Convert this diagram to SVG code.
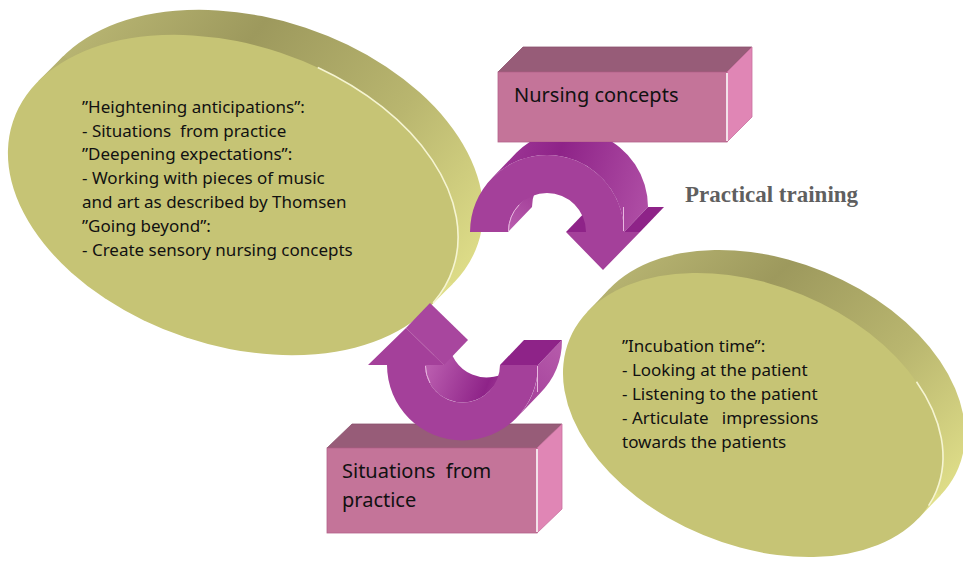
<svg xmlns="http://www.w3.org/2000/svg" xmlns:xlink="http://www.w3.org/1999/xlink" width="963" height="563" viewBox="0 0 963 563">
<style>
text{font-family:"Noto Sans","Liberation Sans",sans-serif;fill:#111;white-space:pre}
.et{font-size:17px}
.bt{font-size:20px}
.face{fill:#c6c475}
.hl{fill:none;stroke:#f6f5d2;stroke-width:1.6}
.bfront{fill:#c47499;stroke:#b36389;stroke-width:0.8}
.btop{fill:#975c78;stroke:#8a506c;stroke-width:0.8}
.bside{fill:#e086b5;stroke:#c96f9e;stroke-width:0.8}
.bedge{stroke:#ffffff;stroke-width:1.6}
.afront{fill:#a4409a}
.acap{fill:#8e2388}
.lbl{font-family:"Liberation Serif","Times New Roman",serif;font-weight:bold;font-size:23px;fill:#5f5f5f}
</style>
<defs>
<ellipse id="ellL" cx="233" cy="195" rx="232" ry="150" transform="rotate(18.5 233 195)"/>
<ellipse id="ellR" cx="753" cy="415" rx="198.5" ry="130" transform="rotate(22.5 753 415)"/>
<linearGradient id="rimL" gradientUnits="userSpaceOnUse" x1="40" y1="60" x2="480" y2="220">
<stop offset="0" stop-color="#b8b572"/><stop offset="0.3" stop-color="#9d995d"/><stop offset="0.65" stop-color="#b9b66f"/><stop offset="1" stop-color="#e1e08a"/>
</linearGradient>
<linearGradient id="rimR" gradientUnits="userSpaceOnUse" x1="590" y1="280" x2="960" y2="440">
<stop offset="0" stop-color="#b8b572"/><stop offset="0.3" stop-color="#9d995d"/><stop offset="0.65" stop-color="#b9b66f"/><stop offset="1" stop-color="#e1e08a"/>
</linearGradient>
<linearGradient id="bandTop" gradientUnits="userSpaceOnUse" x1="490" y1="160" x2="665" y2="215">
<stop offset="0" stop-color="#a03a98"/><stop offset="0.35" stop-color="#8e2388"/><stop offset="1" stop-color="#b556aa"/>
</linearGradient>
<linearGradient id="innerTop" gradientUnits="userSpaceOnUse" x1="510" y1="230" x2="545" y2="180">
<stop offset="0" stop-color="#b95cae"/><stop offset="1" stop-color="#9a3390"/>
</linearGradient>
<linearGradient id="innerBot" gradientUnits="userSpaceOnUse" x1="430" y1="365" x2="505" y2="395">
<stop offset="0" stop-color="#b95cae"/><stop offset="0.75" stop-color="#8e2388"/><stop offset="1" stop-color="#a4409a"/>
</linearGradient>
<linearGradient id="bandBot" gradientUnits="userSpaceOnUse" x1="515" y1="400" x2="562" y2="345">
<stop offset="0" stop-color="#a4409a"/><stop offset="1" stop-color="#b65bab"/>
</linearGradient>
<clipPath id="belowBox"><rect x="0" y="142" width="963" height="421"/></clipPath>
</defs>
<rect width="963" height="563" fill="#ffffff"/>

<g id="node-heightening">
<use xlink:href="#ellL" transform="translate(25,-25)" fill="url(#rimL)"/>
<polygon points="427.8,308.7 452.8,283.7 63.2,56.3 38.2,81.3" fill="url(#rimL)"/>
<use xlink:href="#ellL" class="face"/>
<ellipse cx="233" cy="195" rx="232" ry="150" transform="rotate(18.5 233 195)" class="hl" pathLength="100" stroke-dasharray="3.3 75 21.7 0"/>
<text class="et" x="82" y="113">”Heightening anticipations”:</text>
<text class="et" x="82" y="137">- Situations  from practice</text>
<text class="et" x="82" y="160">”Deepening expectations”:</text>
<text class="et" x="82" y="184">- Working with pieces of music</text>
<text class="et" x="82" y="208">and art as described by Thomsen</text>
<text class="et" x="82" y="232">”Going beyond”:</text>
<text class="et" x="82" y="256">- Create sensory nursing concepts</text>
</g>

<g id="node-incubation">
<use xlink:href="#ellR" transform="translate(22,-23)" fill="url(#rimR)"/>
<polygon points="918.5,518.3 940.5,495.3 609.5,288.7 587.5,311.7" fill="url(#rimR)"/>
<use xlink:href="#ellR" class="face"/>
<ellipse cx="753" cy="415" rx="198.5" ry="130" transform="rotate(22.5 753 415)" class="hl" pathLength="100" stroke-dasharray="1.6 87.3 11.1 0"/>
<text class="et" x="622" y="352">”Incubation time”:</text>
<text class="et" x="622" y="376">- Looking at the patient</text>
<text class="et" x="622" y="400">- Listening to the patient</text>
<text class="et" x="622" y="424">- Articulate   impressions</text>
<text class="et" x="622" y="448">towards the patients</text>
</g>

<g id="node-nursing-concepts">
<polygon class="btop" points="498,72 523,47 752,47 727,72"/>
<polygon class="bside" points="727,72 752,47 752,117 727,142"/>
<rect class="bfront" x="498" y="72" width="229" height="70"/>
<line class="bedge" x1="727" y1="73" x2="727" y2="141"/>
<text class="bt" x="514" y="102">Nursing concepts</text>
</g>

<g id="node-situations">
<polygon class="btop" points="327,448 352,424 562,424 537,448"/>
<polygon class="bside" points="537,448 562,424 562,509 537,533"/>
<rect class="bfront" x="327" y="448" width="210" height="85"/>
<line class="bedge" x1="537" y1="449" x2="537" y2="532"/>
<text class="bt" x="342" y="478">Situations  from</text>
<text class="bt" x="342" y="507">practice</text>
</g>

<g id="connectors">
<g id="arrow-top" clip-path="url(#belowBox)">
<path d="M492.55,177.55 L516.55,152.55 A77,77 0 0 1 648,207 L624,232 A77,77 0 0 0 492.55,177.55 Z" fill="url(#bandTop)"/>
<path d="M508,232 A39,39 0 0 1 519.42,204.42 L543.42,179.42 A39,39 0 0 0 532,207 Z" fill="url(#innerTop)"/>
<polygon class="acap" points="566,232 586,232 610,207 590,207"/>
<polygon class="acap" points="624,232 640,232 664,207 648,207"/>
<path class="afront" d="M470,232 A77,77 0 0 1 624,232 L640,232 L603,270 L566,232 L586,232 A39,39 0 0 0 508,232 Z"/>
<path d="M508.5,231 A38.5,38.5 0 0 1 519,205" fill="none" stroke="#e9b8e0" stroke-width="1"/>
<line x1="623.5" y1="207" x2="623.5" y2="231" stroke="#e9b8e0" stroke-width="1"/>
</g>
<g id="arrow-bottom">
<path d="M515.9,418.4 L539.9,393.4 A75.5,75.5 0 0 0 562,340 L538,365 A75.5,75.5 0 0 1 515.9,418.4 Z" fill="url(#bandBot)"/>
<polygon class="acap" points="500,365 538,365 562,340 524,340"/>
<path d="M425,365 A37.5,37.5 0 0 0 489,391.5 L513,366.5 A37.5,37.5 0 0 1 449,340 Z" fill="url(#innerBot)"/>
<polygon points="406,328 444,365 468,340 430,303" fill="#a8469e"/>
<path class="afront" d="M368,365 L406,328 L444,365 L425,365 A37.5,37.5 0 0 0 500,365 L538,365 A75.5,75.5 0 0 1 387,365 Z"/>
<line x1="406" y1="328" x2="444" y2="365" stroke="#b761ab" stroke-width="0.8"/>
<path d="M425.5,366 A37,37 0 0 0 430,383" fill="none" stroke="#e9b8e0" stroke-width="1"/>
<line x1="537.5" y1="366" x2="537.5" y2="392" stroke="#e9b8e0" stroke-width="1"/>
</g>
</g>

<g id="label-practical-training">
<text class="lbl" x="685" y="202">Practical training</text>
</g>
</svg>
